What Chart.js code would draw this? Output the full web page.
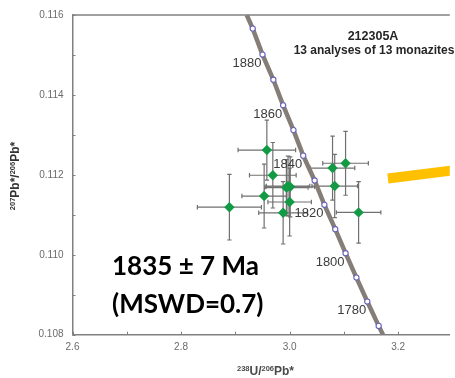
<!DOCTYPE html>
<html><head><meta charset="utf-8">
<script src="https://cdn.jsdelivr.net/npm/chart.js@4"></script>
<style>html,body{margin:0;padding:0;background:#fff;overflow:hidden}</style>
</head><body>
<canvas id="c" width="455" height="378" style="display:block"></canvas>
<script>
// ---- axis ticks ----
const xTickLabels = [2.6, 2.8, 3.0, 3.2];
const xMinorTicks = [2.7, 2.9, 3.1];
const yTickLabels = [0.108, 0.110, 0.112, 0.114, 0.116];
const yMinorTicks = [0.109, 0.111, 0.113, 0.115];

// ---- concordia (age markers) ----
const concordiaAges = [1890, 1880, 1870, 1860, 1850, 1840, 1830, 1820, 1810, 1800, 1790, 1780, 1770];
const concordiaX = [2.932, 2.950, 2.970, 2.988, 3.007, 3.025, 3.046, 3.064, 3.084, 3.103, 3.123, 3.143, 3.164];
const concordiaY = [0.11566, 0.11501, 0.11438, 0.11374, 0.11312, 0.11248, 0.11186, 0.11125, 0.11064, 0.11004, 0.10943, 0.10883, 0.10822];
const concordiaEndsX = [2.921, 3.172];
const concordiaEndsY = [0.116, 0.108];
const labelledAges = [1880, 1860, 1840, 1820, 1800, 1780];

// ---- monazite analyses ----
const spotX    = [2.958, 2.969, 2.953, 2.889, 2.994, 3.001, 3.000, 2.988, 3.079, 3.103, 3.083, 3.127, 2.997];
const spotY    = [0.11262, 0.11199, 0.11147, 0.11119, 0.11168, 0.11170, 0.11132, 0.11105, 0.11217, 0.11229, 0.11172, 0.11106, 0.11172];
const spotXErr = [0.053, 0.043, 0.041, 0.059, 0.040, 0.045, 0.040, 0.045, 0.041, 0.042, 0.042, 0.041, 0.040];
const spotYErr = [0.00075, 0.00082, 0.00080, 0.00082, 0.00070, 0.00075, 0.00085, 0.00078, 0.00080, 0.00080, 0.00079, 0.00077, 0.00075];

// ---- orange pointer ----
const arrowX = [3.181, 3.331];
const arrowY = [0.11191, 0.11216];

// ---- texts ----
const sampleName = '212305A';
const sampleNote = '13 analyses of 13 monazites';
const ageText = '1835 \u00B1 7 Ma';
const mswdText = '(MSWD=0.7)';

const concordiaLine = [{x: concordiaEndsX[0], y: concordiaEndsY[0]}]
  .concat(concordiaX.map((x, i) => ({x, y: concordiaY[i]})))
  .concat([{x: concordiaEndsX[1], y: concordiaEndsY[1]}]);
const concordiaDots = concordiaX.map((x, i) => ({x, y: concordiaY[i]}));
const spots = spotX.map((x, i) => ({x, y: spotY[i]}));
const arrow = arrowX.map((x, i) => ({x, y: arrowY[i]}));

function drawRich(ctx, parts, cx, baseline, big, small, color) {
  let w = 0;
  parts.forEach(p => { ctx.font = p.sup ? small : big; w += ctx.measureText(p.t).width; });
  let x = cx - w / 2;
  ctx.fillStyle = color;
  ctx.textAlign = 'left';
  ctx.textBaseline = 'alphabetic';
  parts.forEach(p => {
    ctx.font = p.sup ? small : big;
    ctx.fillText(p.t, x, p.sup ? baseline - 4.5 : baseline);
    x += ctx.measureText(p.t).width;
  });
}

const decor = {
  id: 'decor',
  beforeDatasetsDraw(chart) {
    const {ctx} = chart;
    const xs = chart.scales.x, ys = chart.scales.y;
    ctx.save();
    ctx.strokeStyle = '#707070';
    ctx.lineWidth = 1.2;
    const cap = 2.2;
    spotX.forEach((v, i) => {
      const cx = xs.getPixelForValue(v), cy = ys.getPixelForValue(spotY[i]);
      const x0 = xs.getPixelForValue(v - spotXErr[i]), x1 = xs.getPixelForValue(v + spotXErr[i]);
      const y0 = ys.getPixelForValue(spotY[i] + spotYErr[i]), y1 = ys.getPixelForValue(spotY[i] - spotYErr[i]);
      ctx.beginPath();
      ctx.moveTo(x0, cy); ctx.lineTo(x1, cy);
      ctx.moveTo(cx, y0); ctx.lineTo(cx, y1);
      ctx.moveTo(x0, cy - cap); ctx.lineTo(x0, cy + cap);
      ctx.moveTo(x1, cy - cap); ctx.lineTo(x1, cy + cap);
      ctx.moveTo(cx - cap, y0); ctx.lineTo(cx + cap, y0);
      ctx.moveTo(cx - cap, y1); ctx.lineTo(cx + cap, y1);
      ctx.stroke();
    });
    ctx.restore();
  },
  afterDatasetsDraw(chart) {
    const {ctx} = chart;
    const xs = chart.scales.x, ys = chart.scales.y;
    ctx.save();
    ctx.font = '13px "Liberation Sans", Arial, sans-serif';
    ctx.fillStyle = '#3c3c3c';
    ctx.textAlign = 'right';
    ctx.textBaseline = 'middle';
    labelledAges.forEach(a => {
      const i = concordiaAges.indexOf(a);
      const px = xs.getPixelForValue(concordiaX[i]), py = ys.getPixelForValue(concordiaY[i]);
      ctx.fillText(String(a), px - 1, py + 9);
    });
    ctx.restore();
  },
  afterDraw(chart) {
    const {ctx, chartArea: ca} = chart;
    const xs = chart.scales.x, ys = chart.scales.y;
    ctx.save();
    // top frame line
    ctx.strokeStyle = '#808080';
    ctx.lineWidth = 1.5;
    ctx.beginPath(); ctx.moveTo(ca.left, ca.top); ctx.lineTo(ca.right, ca.top); ctx.stroke();
    // tick marks (inside)
    ctx.lineWidth = 1;
    ctx.beginPath();
    xTickLabels.concat(xMinorTicks).forEach(v => {
      const p = Math.round(xs.getPixelForValue(v)) + 0.5;
      ctx.moveTo(p, ca.bottom); ctx.lineTo(p, ca.bottom - 3);
    });
    yTickLabels.concat(yMinorTicks).forEach(v => {
      const p = Math.round(ys.getPixelForValue(v)) + 0.5;
      ctx.moveTo(ca.left, p); ctx.lineTo(ca.left + 3, p);
    });
    ctx.stroke();
    // sample annotation
    ctx.fillStyle = '#262626';
    ctx.textAlign = 'center';
    ctx.textBaseline = 'alphabetic';
    ctx.font = 'bold 12.5px "Liberation Sans", Arial, sans-serif';
    ctx.fillText(sampleName, 373, 39.5);
    ctx.font = 'bold 12px "Liberation Sans", Arial, sans-serif';
    ctx.fillText(sampleNote, 374, 53.5);
    // age text
    ctx.fillStyle = '#000';
    ctx.textAlign = 'left';
    ctx.font = 'bold 26px Lato, "Open Sans", sans-serif';
    ctx.fillText(ageText, 112, 275);
    ctx.fillText(mswdText, 112, 312.5);
    // x axis title
    drawRich(ctx, [{t: '238', sup: true}, {t: 'U/'}, {t: '206', sup: true}, {t: 'Pb*'}],
      265.5, 375, 'bold 12px "Liberation Sans", Arial, sans-serif', 'bold 7.5px "Liberation Sans", Arial, sans-serif', '#4a4a4a');
    // y axis title
    ctx.translate(19, 176);
    ctx.rotate(-Math.PI / 2);
    drawRich(ctx, [{t: '207', sup: true}, {t: 'Pb*/'}, {t: '206', sup: true}, {t: 'Pb*'}],
      0, 0, 'bold 12px "Liberation Sans", Arial, sans-serif', 'bold 7.5px "Liberation Sans", Arial, sans-serif', '#333');
    ctx.restore();
  }
};

new Chart(document.getElementById('c'), {
  type: 'scatter',
  data: {
    datasets: [
      { // analyses (drawn on top)
        data: spots,
        pointStyle: 'rectRot',
        pointRadius: 5.2,
        backgroundColor: '#129a45',
        borderColor: '#129a45',
        borderWidth: 0
      },
      { // concordia age markers
        data: concordiaDots,
        pointStyle: 'circle',
        pointRadius: 2.6,
        backgroundColor: '#ffffff',
        borderColor: '#6a62b8',
        borderWidth: 1.1
      },
      { // concordia curve
        type: 'line',
        data: concordiaLine,
        borderColor: '#857d77',
        borderWidth: 4.5,
        pointRadius: 0,
        tension: 0,
        fill: false
      },
      { // orange pointer
        type: 'line',
        data: arrow,
        borderColor: '#FFC000',
        borderWidth: 10,
        borderCapStyle: 'butt',
        pointRadius: 0,
        fill: false
      }
    ]
  },
  options: {
    responsive: false,
    animation: false,
    events: [],
    layout: {padding: {top: 13, right: 0, left: 0, bottom: 0}},
    plugins: {legend: {display: false}, tooltip: {enabled: false}},
    scales: {
      x: {
        type: 'linear', min: 2.6, max: 3.295,
        afterBuildTicks: s => { s.ticks = xTickLabels.map(v => ({value: v})); },
        afterFit: s => { s.height = 43.3; },
        grid: {display: false, drawTicks: false},
        border: {display: true, color: '#808080', width: 1.5},
        ticks: {color: '#6b6b6b', font: {family: '"Liberation Sans", Arial', size: 10}, padding: 7, maxRotation: 0,
          callback: v => Number(v).toFixed(1)}
      },
      y: {
        type: 'linear', min: 0.108, max: 0.116,
        afterBuildTicks: s => { s.ticks = yTickLabels.map(v => ({value: v})); },
        afterFit: s => { s.width = 72.5; },
        grid: {display: false, drawTicks: false},
        border: {display: true, color: '#808080', width: 1.5},
        ticks: {color: '#6b6b6b', font: {family: '"Liberation Sans", Arial', size: 10}, padding: 9,
          callback: v => Number(v).toFixed(3)}
      }
    }
  },
  plugins: [decor]
});
</script>
</body></html>
